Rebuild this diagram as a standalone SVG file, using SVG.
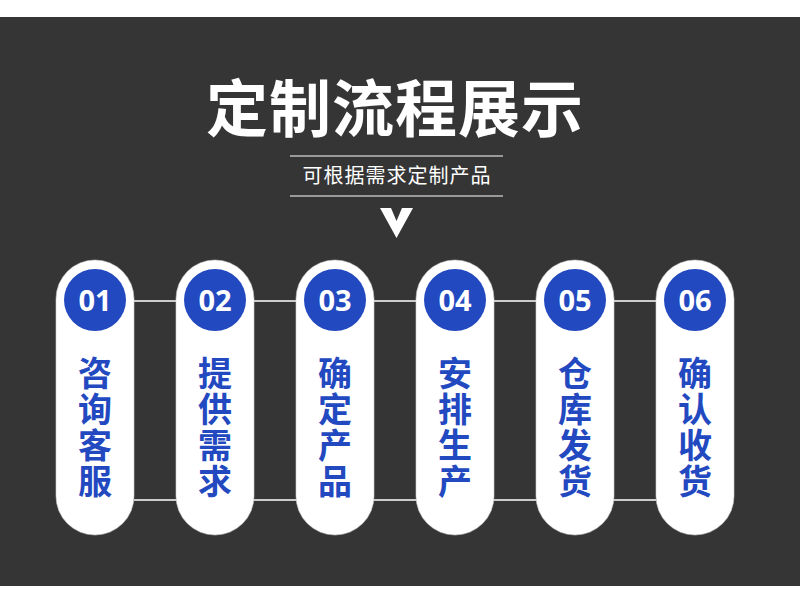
<svg xmlns="http://www.w3.org/2000/svg" width="800" height="602" viewBox="0 0 800 602">
<style>
.pill{fill:#ffffff;stroke:#d0d0d0;stroke-width:0.6}
.dot{fill:#2249bf}
.num{fill:#ffffff;font-family:"Open Sans","Noto Sans",sans-serif;font-weight:700;font-size:29px;text-anchor:middle}
.lbl{fill:#2249bf;font-family:"Noto Sans CJK SC",sans-serif;font-weight:700;font-size:34px;writing-mode:vertical-rl;letter-spacing:2px;text-anchor:start}
.conn{stroke:#ffffff;stroke-width:1.6;fill:none}
</style>
<rect x="0" y="0" width="800" height="602" fill="#ffffff"/>
<rect x="0" y="17" width="800" height="569" fill="#353535"/>
<g id="title">
<text x="395" y="132" fill="#ffffff" font-family="Noto Sans CJK SC, sans-serif" font-weight="700" font-size="62" letter-spacing="1" text-anchor="middle">定制流程展示</text>
</g>
<g id="subtitle">
<line x1="290" y1="156" x2="503" y2="156" stroke="#ffffff" stroke-width="1"/>
<text x="397" y="183" fill="#ffffff" font-family="Noto Sans CJK SC, sans-serif" font-size="20" letter-spacing="1" text-anchor="middle">可根据需求定制产品</text>
<line x1="290" y1="196" x2="503" y2="196" stroke="#ffffff" stroke-width="1"/>
<polygon points="380,208 391,208 396.5,221 402,208 413,208 396.5,238" fill="#ffffff"/>
</g>
<g id="connectors">
<line class="conn" x1="134" y1="301" x2="656" y2="301"/>
<line class="conn" x1="134" y1="500" x2="656" y2="500"/>
</g>
<g id="step1">
<rect class="pill" x="56" y="260" width="78" height="275" rx="39"/>
<circle class="dot" cx="95" cy="300" r="31"/>
<text class="num" x="95" y="311">01</text>
<text class="lbl" x="95" y="356">咨询客服</text>
</g>
<g id="step2">
<rect class="pill" x="176" y="260" width="78" height="275" rx="39"/>
<circle class="dot" cx="215" cy="300" r="31"/>
<text class="num" x="215" y="311">02</text>
<text class="lbl" x="215" y="356">提供需求</text>
</g>
<g id="step3">
<rect class="pill" x="296" y="260" width="78" height="275" rx="39"/>
<circle class="dot" cx="335" cy="300" r="31"/>
<text class="num" x="335" y="311">03</text>
<text class="lbl" x="335" y="356">确定产品</text>
</g>
<g id="step4">
<rect class="pill" x="416" y="260" width="78" height="275" rx="39"/>
<circle class="dot" cx="455" cy="300" r="31"/>
<text class="num" x="455" y="311">04</text>
<text class="lbl" x="455" y="356">安排生产</text>
</g>
<g id="step5">
<rect class="pill" x="536" y="260" width="78" height="275" rx="39"/>
<circle class="dot" cx="575" cy="300" r="31"/>
<text class="num" x="575" y="311">05</text>
<text class="lbl" x="575" y="356">仓库发货</text>
</g>
<g id="step6">
<rect class="pill" x="656" y="260" width="78" height="275" rx="39"/>
<circle class="dot" cx="695" cy="300" r="31"/>
<text class="num" x="695" y="311">06</text>
<text class="lbl" x="695" y="356">确认收货</text>
</g>
</svg>
